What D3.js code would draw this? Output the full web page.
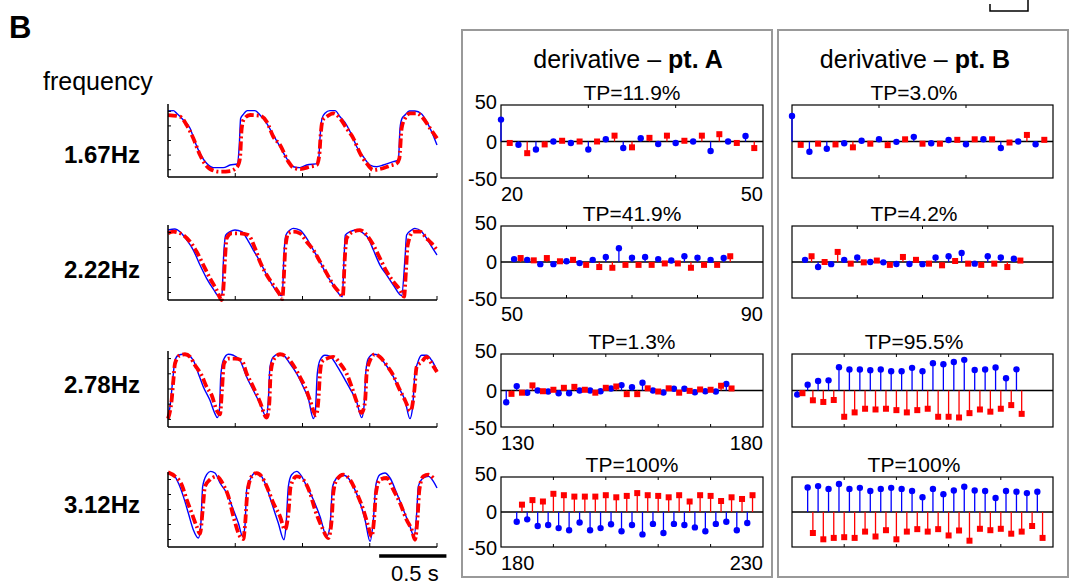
<!DOCTYPE html>
<html lang="en">
<head>
<meta charset="UTF-8">
<title>Derivative at pt. A / pt. B</title>
<style>
  body { margin: 0; background: #fff; font-family: Arial, "Liberation Sans", sans-serif; }
  text { fill: #000; }
</style>
<script src="https://d3js.org/d3.v7.min.js"></script>
</head>
<body>
<script>
// ---------- data ----------
var freqLabels = ["1.67Hz", "2.22Hz", "2.78Hz", "3.12Hz"];
var tpA = ["TP=11.9%", "TP=41.9%", "TP=1.3%", "TP=100%"];
var tpB = ["TP=3.0%", "TP=4.2%", "TP=95.5%", "TP=100%"];
var xDomains = [[20, 50], [50, 90], [130, 180], [180, 230]];

// traces: [time (s), position (a.u.)]
var blue1 = [[0,90.4],[0.04,90.9],[0.064,87.2],[0.114,78.1],[0.164,66.7],[0.2,48.4],[0.238,32.4],[0.287,18.7],[0.337,12.8],[0.411,12.8],[0.461,16.4],[0.515,17.8],[0.53,43.8],[0.54,80.3],[0.56,85.8],[0.59,90.9],[0.647,90.9],[0.684,84.9],[0.734,73.5],[0.783,57.5],[0.833,41.5],[0.882,25.5],[0.932,14.1],[0.981,12.8],[1.031,16.4],[1.118,18.7],[1.13,53],[1.145,80.3],[1.167,87.2],[1.204,90.9],[1.242,90.9],[1.279,82.6],[1.328,71.2],[1.366,57.5],[1.403,41.5],[1.452,27.8],[1.502,16.4],[1.551,14.1],[1.601,16.4],[1.675,21],[1.713,23.3],[1.725,66.7],[1.74,80.3],[1.762,84.9],[1.794,90.4],[1.836,90.4],[1.886,86.3],[1.923,75.8],[1.96,62.1],[2.0,43.8]];
var red1 = [[0,84.9],[0.089,82.6],[0.139,71.2],[0.188,53],[0.238,30.1],[0.312,10.9],[0.387,7.3],[0.461,8.2],[0.515,14.1],[0.535,25.5],[0.548,66.7],[0.565,79.4],[0.61,84.9],[0.684,84],[0.734,75.8],[0.783,55.2],[0.833,43.8],[0.895,21],[0.932,12.8],[0.981,10.9],[1.056,14.1],[1.105,16.4],[1.125,30.1],[1.135,57.5],[1.15,78.1],[1.18,82.6],[1.229,87.2],[1.279,80.3],[1.328,66.7],[1.378,53],[1.428,32.4],[1.477,18.7],[1.527,9.6],[1.576,10.9],[1.651,15.5],[1.7,18.7],[1.72,25.5],[1.737,66.7],[1.762,80.3],[1.799,87.2],[1.849,87.2],[1.898,80.3],[1.948,66.7],[2.0,53]];
var blue2 = [[0,93.3],[0.052,94.6],[0.089,91.1],[0.139,80],[0.188,66.6],[0.238,46.6],[0.287,28.9],[0.337,14.6],[0.382,4.4],[0.401,7.5],[0.414,60],[0.429,86.6],[0.461,91.1],[0.498,93.3],[0.548,91.1],[0.585,82.2],[0.634,66.6],[0.684,51.1],[0.734,33.3],[0.783,17.8],[0.833,6.6],[0.85,5.8],[0.862,60],[0.877,86.6],[0.907,93.3],[0.932,95.5],[0.981,93.3],[1.031,82.2],[1.081,66.6],[1.13,51.1],[1.18,33.3],[1.229,20],[1.279,6.6],[1.296,4.4],[1.309,55.5],[1.318,86.6],[1.353,91.1],[1.403,93.3],[1.452,88.9],[1.489,82.2],[1.527,66.6],[1.576,46.6],[1.626,33.3],[1.675,20],[1.737,5.8],[1.762,55.5],[1.774,86.6],[1.812,93.3],[1.836,95.5],[1.886,91.1],[1.923,82.2],[1.96,71.1],[2.0,60]];
var red2 = [[0,88.9],[0.04,91.1],[0.114,86.6],[0.164,77.7],[0.213,64.4],[0.263,46.6],[0.312,28.9],[0.362,13.3],[0.399,0],[0.411,13.3],[0.424,55.5],[0.436,82.2],[0.473,88.9],[0.535,88.9],[0.597,86.6],[0.647,68.9],[0.684,51.1],[0.734,33.3],[0.783,20],[0.833,6.6],[0.85,1.3],[0.862,33.3],[0.872,68.9],[0.895,88.9],[0.932,91.1],[0.981,88.9],[1.031,77.7],[1.081,66.6],[1.13,51.1],[1.18,35.5],[1.229,20],[1.279,8.9],[1.299,4.4],[1.316,60],[1.328,82.2],[1.378,91.1],[1.428,93.3],[1.477,86.6],[1.527,73.3],[1.576,55.5],[1.626,37.7],[1.675,24.4],[1.725,13.3],[1.755,4.4],[1.769,37.7],[1.782,73.3],[1.824,91.1],[1.874,91.1],[1.923,82.2],[1.96,75.5],[2.0,66.6]];
var blue3 = [[0,13.2],[0.015,26.4],[0.035,61.5],[0.052,87.8],[0.077,94.4],[0.114,95.7],[0.151,94.4],[0.188,87.8],[0.226,70.2],[0.263,52.7],[0.312,35.2],[0.349,17.6],[0.367,12.3],[0.382,22],[0.392,65.9],[0.411,87.8],[0.449,95.7],[0.486,94.4],[0.535,87.8],[0.585,65.9],[0.634,48.3],[0.684,30.8],[0.729,14.1],[0.746,35.2],[0.758,79],[0.783,92.2],[0.82,95.7],[0.857,94.4],[0.907,83.4],[0.957,70.2],[1.006,52.7],[1.043,37.4],[1.081,11],[1.095,19.8],[1.11,70.2],[1.13,87.8],[1.167,94.4],[1.204,93],[1.254,81.2],[1.304,65.9],[1.353,50.5],[1.403,33],[1.44,12.3],[1.457,26.4],[1.472,74.6],[1.489,90],[1.527,95.7],[1.564,94.4],[1.613,83.4],[1.663,70.2],[1.713,52.7],[1.762,35.2],[1.799,11],[1.819,26.4],[1.836,70.2],[1.854,83.4],[1.886,94.4],[1.923,94.4],[1.96,87.8],[2.0,74.6]];
var red3 = [[0,11],[0.027,35.2],[0.04,61.5],[0.052,83.4],[0.089,94.4],[0.126,95.7],[0.164,92.2],[0.201,81.2],[0.25,68],[0.287,52.7],[0.325,41.7],[0.362,22],[0.387,16.7],[0.401,48.3],[0.416,83.4],[0.449,90],[0.498,90],[0.548,87.8],[0.585,70.2],[0.634,52.7],[0.684,33],[0.734,12.3],[0.753,30.8],[0.763,70.2],[0.783,87.8],[0.833,95.7],[0.882,92.2],[0.932,81.2],[0.981,65.9],[1.019,52.7],[1.056,35.2],[1.1,15.4],[1.118,35.2],[1.13,70.2],[1.143,85.6],[1.18,90],[1.229,92.2],[1.279,83.4],[1.328,70.2],[1.366,52.7],[1.403,33],[1.44,18.5],[1.465,33],[1.477,70.2],[1.502,87.8],[1.539,95.7],[1.576,92.2],[1.626,81.2],[1.675,68],[1.713,52.7],[1.762,35.2],[1.804,21.1],[1.829,43.9],[1.849,79],[1.886,85.6],[1.923,92.2],[1.96,83.4],[2.0,72.4]];
var blue4 = [[0,98.6],[0.04,96.4],[0.077,85.3],[0.114,67.5],[0.151,45.3],[0.188,23.1],[0.226,12],[0.243,27.5],[0.258,80.8],[0.287,96.4],[0.317,100.8],[0.349,98.6],[0.387,85.3],[0.436,72],[0.486,49.7],[0.523,32],[0.555,14.2],[0.572,27.5],[0.585,76.4],[0.61,89.7],[0.647,98.6],[0.684,96.4],[0.721,85.3],[0.771,58.6],[0.82,32],[0.862,9.7],[0.877,27.5],[0.895,80.8],[0.919,96.4],[0.957,100.8],[0.994,94.2],[1.031,80.8],[1.081,63.1],[1.13,40.8],[1.18,14.2],[1.204,27.5],[1.224,80.8],[1.254,92],[1.291,96.4],[1.328,94.2],[1.378,80.8],[1.428,58.6],[1.465,36.4],[1.502,7.5],[1.527,36.4],[1.546,83.1],[1.576,96.4],[1.613,98.6],[1.651,92],[1.7,72],[1.75,49.7],[1.799,27.5],[1.829,14.2],[1.849,45.3],[1.861,80.8],[1.898,92],[1.936,94.2],[1.973,87.5],[2.0,78.6]];
var red4 = [[0,99.5],[0.052,94.2],[0.102,83.1],[0.139,63.1],[0.176,45.3],[0.213,27.5],[0.238,17.7],[0.258,49.7],[0.275,80.8],[0.312,89.7],[0.362,94.2],[0.411,83.1],[0.449,67.5],[0.486,40.8],[0.535,14.2],[0.56,10.6],[0.572,27.5],[0.59,72],[0.622,94.2],[0.659,98.6],[0.696,94.2],[0.734,80.8],[0.783,58.6],[0.833,40.8],[0.87,23.1],[0.895,45.3],[0.912,80.8],[0.957,94.2],[1.006,89.7],[1.056,72],[1.093,49.7],[1.142,27.5],[1.192,12],[1.217,36.4],[1.229,72],[1.254,89.7],[1.304,96.4],[1.353,89.7],[1.403,72],[1.452,49.7],[1.489,27.5],[1.514,14.2],[1.532,36.4],[1.546,72],[1.576,89.7],[1.626,92],[1.675,76.4],[1.725,58.6],[1.774,36.4],[1.812,23.1],[1.836,9.7],[1.856,40.8],[1.869,76.4],[1.898,94.2],[1.936,96.4],[1.973,92]];

// stem sample times (cycle index)
var blueT1 = [20,22,24,26,28,30,32,34,36,38,40,42,44,46,48];
var redT1  = [21,23,25,27,29,31,33,35,37,39,41,43,45,47,49];
var blueT2 = [52,54,56,58,60,62,64,66,68,70,72,74,76,78,80,82,84];
var redT2  = [53,55,57,59,61,63,65,67,69,71,73,75,77,79,81,83,85];
var blueT3 = [131,133,135,137,139,141,143,145,147,149,151,153,155,157,159,161,163,165,167,169,171,173];
var redT3  = [132,134,136,138,140,142,144,146,148,150,152,154,156,158,160,162,164,166,168,170,172,174];
var blueT4 = [183,185,187,189,191,193,195,197,199,201,203,205,207,209,211,213,215,217,219,221,223,225,227];
var redT4  = [184,186,188,190,192,194,196,198,200,202,204,206,208,210,212,214,216,218,220,222,224,226,228];

// derivative values, pt. A
var blueA1 = [30,-4.5,-11,0,-2,-11,3,-9,4.5,-3.5,-2,0,-13,0,7.5];
var redA1  = [-2,-16,-4,1,0,0,8,-8,5,8,1,8,10,-2,-9];
var blueA2 = [4,3,-3,-3,1,-1.5,3,7,19,6,7,4,2,8,6,3,5.5];
var redA2  = [5.5,2.3,5.5,1,3,-4,-7,-8,-4,-4,-4,-2,-2,-8,-4,-4,8];
var blueA3 = [-16,6,-3,0,-1.4,-3.7,-3.7,0,0,-1,2.8,7.4,4.6,10.6,0,-2.8,2.3,2.3,-2.3,-1,-1.4,9];
var redA3  = [-4.6,-3,7,-1,1,3.7,5,1,-3,3.7,5.5,-5,-5,3,-1.4,3,-3,-0.5,1.4,1,6.5,2.8];
var blueA4 = [-14,-10.5,-20,-18.5,-23,-26,-15,-26,-23,-17.6,-27.6,-18.6,-32,-17,-30,-17,-18.6,-22,-27.6,-17,-14,-26,-15.7];
var redA4  = [10.5,17,15,26,24,22,22,22,24,21,23,27,24,23,21,24,15,24,23,15.7,21,18.6,24];

// derivative values, pt. B
var blueB1 = [35,-14,-10,-2.3,1,3,-0.5,6.4,-2.3,2,-3.7,3,-9,0,-3.7];
var redB1  = [-4.6,-3,-4,-8,-3,-5,3,-3,-3,2.3,3,3,-1.4,9,2.3];
var blueB2 = [3,-7,-3,3,6.4,0,-0.5,-2.7,-2.7,-3,6.4,8,12.4,-2.3,8,6.4,4.6];
var redB2  = [8,0,14,-2.3,-0.5,2,-4,7,3,-2.3,-4.6,1.4,-2.3,-4,-2.3,-7,2];
var blueB3 = [-5.6,7.9,13,13.9,32,28.7,28.7,27.8,28.7,26.4,26.4,31,26.4,37.5,36,39,42,28,28.7,31.5,16.7,29];
var redB3  = [-3.7,-13.4,-15.7,-13,-36,-30,-25,-26,-25,-26.9,-30,-26.9,-25,-36,-36,-37,-31,-26,-29,-25,-20,-32];
var blueB4 = [35,37,33,40,33,34.5,30,33,34.5,33,30,21,33,25.5,30.7,36,30.7,30,20,30,29,27,29];
var redB4  = [-30,-39,-37,-36,-37,-28,-35,-26,-39,-28,-24.5,-28,-24.5,-33.5,-26.4,-41,-24,-26,-24,-31,-28,-20,-37];

var scaleBarStart = 1.57, scaleBarLen = 0.5;

// ---------- layout ----------
var W = 1074, H = 585;
var BLUE = "#0000ff", RED = "#ff0000";
var svg = d3.select("body").append("svg").attr("width", W).attr("height", H);

var traceRows = [{top: 104, bottom: 177}, {top: 225, bottom: 300}, {top: 351, bottom: 427}, {top: 472, bottom: 547}];
var stemRows  = [{top: 105, bottom: 178}, {top: 226, bottom: 298}, {top: 354, bottom: 427}, {top: 477, bottom: 547}];
var labelY = [163, 278, 393, 513];
var traceX = d3.scaleLinear().domain([0, 2]).range([168, 437]);

var traces = [[blue1, red1], [blue2, red2], [blue3, red3], [blue4, red4]];
var blueT = [blueT1, blueT2, blueT3, blueT4];
var redT = [redT1, redT2, redT3, redT4];
var stemsA = [[blueA1, redA1], [blueA2, redA2], [blueA3, redA3], [blueA4, redA4]];
var stemsB = [[blueB1, redB1], [blueB2, redB2], [blueB3, redB3], [blueB4, redB4]];

// panel letter + column heading
svg.append("text").attr("x", 9).attr("y", 38).style("font-size", "31px").style("font-weight", "bold").text("B");
svg.append("text").attr("x", 43).attr("y", 90).style("font-size", "25px").text("frequency");

// grey group boxes
svg.append("rect").attr("x", 462).attr("y", 30).attr("width", 310).attr("height", 547)
  .attr("fill", "none").attr("stroke", "#999").attr("stroke-width", 2);
svg.append("rect").attr("x", 778).attr("y", 30).attr("width", 290).attr("height", 547)
  .attr("fill", "none").attr("stroke", "#999").attr("stroke-width", 2);

// little partial scale at top right
svg.append("path").attr("d", "M990,4V11H1028V0").attr("fill", "none").attr("stroke", "#000").attr("stroke-width", 1.5);

function title(x, bold) {
  var t = svg.append("text").attr("x", x).attr("y", 68).attr("text-anchor", "middle").style("font-size", "25px");
  t.append("tspan").text("derivative \u2013 ");
  t.append("tspan").style("font-weight", "bold").text(bold);
}
title(628, "pt. A");
title(915, "pt. B");

// ---------- position traces ----------
traces.forEach(function(tr, i) {
  var row = traceRows[i];
  var y = d3.scaleLinear().domain([0, 100]).range([row.bottom, row.top]);
  var g = svg.append("g");
  var line = d3.line().x(d => traceX(d[0])).y(d => y(d[1])).curve(d3.curveMonotoneX);

  g.append("path").datum(tr[0]).attr("d", line)
    .attr("fill", "none").attr("stroke", BLUE).attr("stroke-width", 1.4);
  g.append("path").datum(tr[1]).attr("d", line)
    .attr("fill", "none").attr("stroke", RED).attr("stroke-width", 3.8)
    .attr("stroke-dasharray", "9 3 2 3");

  // axes (left + bottom only, inward ticks)
  g.append("line").attr("x1", traceX(0)).attr("x2", traceX(0)).attr("y1", row.top).attr("y2", row.bottom)
    .attr("stroke", "#000").attr("stroke-width", 1.5);
  g.append("line").attr("x1", traceX(0)).attr("x2", traceX(2)).attr("y1", row.bottom).attr("y2", row.bottom)
    .attr("stroke", "#000").attr("stroke-width", 1.5);
  g.selectAll(".xt").data([0.5, 1, 1.5, 2]).enter().append("line")
    .attr("x1", d => traceX(d)).attr("x2", d => traceX(d)).attr("y1", row.bottom).attr("y2", row.bottom - 4)
    .attr("stroke", "#000").attr("stroke-width", 1);
  g.selectAll(".yt").data([10, 30, 50, 70, 90]).enter().append("line")
    .attr("x1", traceX(0)).attr("x2", traceX(0) + 3).attr("y1", d => y(d)).attr("y2", d => y(d))
    .attr("stroke", "#000").attr("stroke-width", 1);

  svg.append("text").attr("x", 140).attr("y", labelY[i])
    .attr("text-anchor", "end").style("font-size", "24px").style("font-weight", "bold").text(freqLabels[i]);
});

// scale bar
svg.append("line").attr("x1", traceX(scaleBarStart)).attr("x2", traceX(scaleBarStart + scaleBarLen))
  .attr("y1", 556).attr("y2", 556).attr("stroke", "#000").attr("stroke-width", 3.5);
svg.append("text").attr("x", (traceX(scaleBarStart) + traceX(scaleBarStart + scaleBarLen)) / 2 + 2).attr("y", 581)
  .attr("text-anchor", "middle").style("font-size", "22px").text("0.5 s");

// ---------- derivative stem plots ----------
function stemPlot(x0, x1, i, vals, tpText, tpX, labels) {
  var row = stemRows[i];
  var x = d3.scaleLinear().domain(xDomains[i]).range([x0, x1]);
  var y = d3.scaleLinear().domain([-50, 50]).range([row.bottom, row.top]);
  var g = svg.append("g");

  g.append("rect").attr("x", x0).attr("y", row.top).attr("width", x1 - x0).attr("height", row.bottom - row.top)
    .attr("fill", "none").attr("stroke", "#000").attr("stroke-width", 1.2);
  var ticks = d3.range(xDomains[i][0] + 10, xDomains[i][1], 10);
  g.selectAll(".tb").data(ticks).enter().append("line")
    .attr("x1", d => x(d)).attr("x2", d => x(d)).attr("y1", row.bottom).attr("y2", row.bottom - 3)
    .attr("stroke", "#000");
  g.selectAll(".tt").data(ticks).enter().append("line")
    .attr("x1", d => x(d)).attr("x2", d => x(d)).attr("y1", row.top).attr("y2", row.top + 3)
    .attr("stroke", "#000");
  g.append("line").attr("x1", x0).attr("x2", x1).attr("y1", y(0)).attr("y2", y(0))
    .attr("stroke", "#000").attr("stroke-width", 1.3);

  var blue = blueT[i].map((t, k) => [t, vals[0][k]]);
  var red = redT[i].map((t, k) => [t, vals[1][k]]);

  g.selectAll(".sb").data(blue).enter().append("line")
    .attr("x1", d => x(d[0])).attr("x2", d => x(d[0])).attr("y1", y(0)).attr("y2", d => y(d[1]))
    .attr("stroke", BLUE).attr("stroke-width", 1.3);
  g.selectAll(".sr").data(red).enter().append("line")
    .attr("x1", d => x(d[0])).attr("x2", d => x(d[0])).attr("y1", y(0)).attr("y2", d => y(d[1]))
    .attr("stroke", RED).attr("stroke-width", 1.3);
  g.selectAll(".mb").data(blue).enter().append("circle")
    .attr("cx", d => x(d[0])).attr("cy", d => y(d[1])).attr("r", 3.2).attr("fill", BLUE);
  g.selectAll(".mr").data(red).enter().append("rect")
    .attr("x", d => x(d[0]) - 3).attr("y", d => y(d[1]) - 3).attr("width", 6).attr("height", 6).attr("fill", RED);

  svg.append("text").attr("x", tpX).attr("y", row.top - 5).attr("text-anchor", "middle")
    .style("font-size", "21px").text(tpText);

  if (labels) {
    [[50, row.top + 4], [0, y(0) + 7], [-50, row.bottom + 8]].forEach(function(p) {
      svg.append("text").attr("x", x0 - 4).attr("y", p[1]).attr("text-anchor", "end")
        .style("font-size", "20px").text(p[0]);
    });
    svg.append("text").attr("x", x0).attr("y", row.bottom + 23).style("font-size", "20px").text(xDomains[i][0]);
    svg.append("text").attr("x", x1).attr("y", row.bottom + 23).attr("text-anchor", "end")
      .style("font-size", "20px").text(xDomains[i][1]);
  }
}

for (var i = 0; i < 4; i++) {
  stemPlot(501, 763, i, stemsA[i], tpA[i], 632, true);
  stemPlot(792, 1053, i, stemsB[i], tpB[i], 914, false);
}
</script>
</body>
</html>
